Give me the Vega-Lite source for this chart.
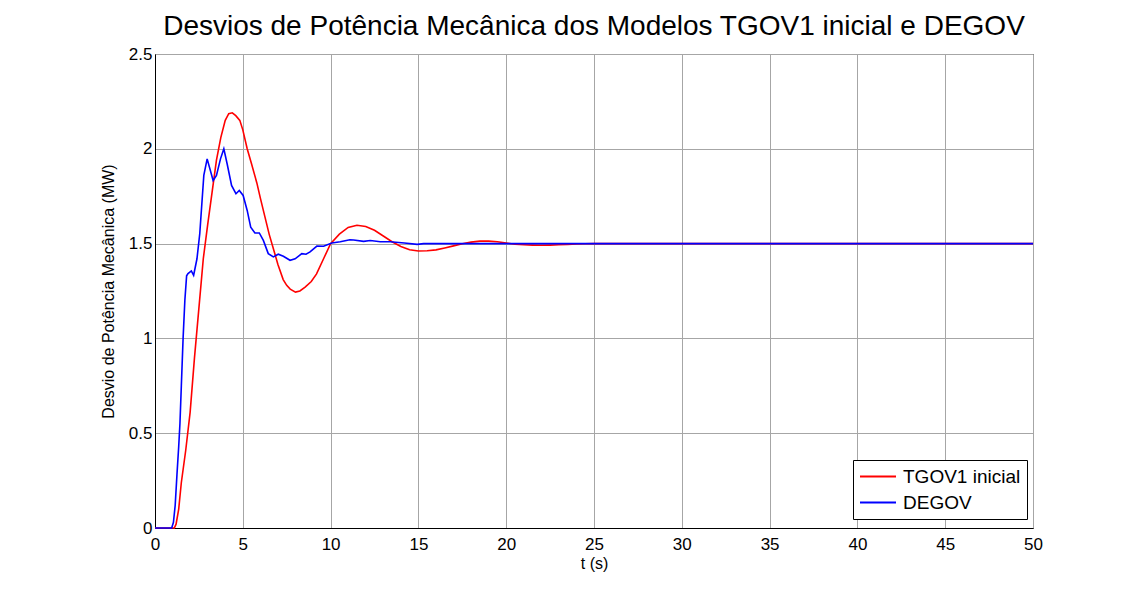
{
  "$schema": "https://vega.github.io/schema/vega-lite/v6.json",
  "autosize": "none",
  "width": 878,
  "height": 474,
  "padding": {"left": 155, "top": 54, "right": 111, "bottom": 63},
  "background": "white",
  "title": {
    "text": "Desvios de Potência Mecânica dos Modelos TGOV1 inicial e DEGOV",
    "font": "Liberation Sans",
    "fontSize": 28,
    "fontWeight": "normal",
    "color": "black",
    "anchor": "middle",
    "offset": 4
  },
  "config": {
    "view": {"stroke": "black", "strokeWidth": 1},
    "axis": {
      "labelFont": "Liberation Sans",
      "titleFont": "Liberation Sans",
      "labelFontSize": 17,
      "titleFontSize": 16,
      "titleFontWeight": "normal",
      "labelColor": "black",
      "titleColor": "black",
      "gridColor": "#a6a6a6",
      "gridOpacity": 1,
      "gridWidth": 1,
      "domainColor": "black",
      "ticks": false,
      "labelFlush": false,
      "labelOverlap": false
    }
  },
  "data": {
    "values": [
      {"t": 0, "v": 0, "s": "TGOV1 inicial"},
      {"t": 1.1, "v": 0, "s": "TGOV1 inicial"},
      {"t": 1.2, "v": 0.02, "s": "TGOV1 inicial"},
      {"t": 1.35, "v": 0.1, "s": "TGOV1 inicial"},
      {"t": 1.5, "v": 0.24, "s": "TGOV1 inicial"},
      {"t": 1.75, "v": 0.41, "s": "TGOV1 inicial"},
      {"t": 2.0, "v": 0.61, "s": "TGOV1 inicial"},
      {"t": 2.25, "v": 0.9, "s": "TGOV1 inicial"},
      {"t": 2.5, "v": 1.16, "s": "TGOV1 inicial"},
      {"t": 2.75, "v": 1.42, "s": "TGOV1 inicial"},
      {"t": 3.0, "v": 1.6, "s": "TGOV1 inicial"},
      {"t": 3.25, "v": 1.77, "s": "TGOV1 inicial"},
      {"t": 3.5, "v": 1.94, "s": "TGOV1 inicial"},
      {"t": 3.75, "v": 2.06, "s": "TGOV1 inicial"},
      {"t": 4.0, "v": 2.15, "s": "TGOV1 inicial"},
      {"t": 4.2, "v": 2.185, "s": "TGOV1 inicial"},
      {"t": 4.4, "v": 2.19, "s": "TGOV1 inicial"},
      {"t": 4.6, "v": 2.175, "s": "TGOV1 inicial"},
      {"t": 4.83, "v": 2.15, "s": "TGOV1 inicial"},
      {"t": 5.0, "v": 2.1, "s": "TGOV1 inicial"},
      {"t": 5.25, "v": 2.0, "s": "TGOV1 inicial"},
      {"t": 5.5, "v": 1.92, "s": "TGOV1 inicial"},
      {"t": 5.8, "v": 1.82, "s": "TGOV1 inicial"},
      {"t": 6.0, "v": 1.74, "s": "TGOV1 inicial"},
      {"t": 6.25, "v": 1.645, "s": "TGOV1 inicial"},
      {"t": 6.5, "v": 1.55, "s": "TGOV1 inicial"},
      {"t": 6.75, "v": 1.47, "s": "TGOV1 inicial"},
      {"t": 7.0, "v": 1.39, "s": "TGOV1 inicial"},
      {"t": 7.3, "v": 1.31, "s": "TGOV1 inicial"},
      {"t": 7.5, "v": 1.28, "s": "TGOV1 inicial"},
      {"t": 7.7, "v": 1.26, "s": "TGOV1 inicial"},
      {"t": 8.0, "v": 1.244, "s": "TGOV1 inicial"},
      {"t": 8.25, "v": 1.25, "s": "TGOV1 inicial"},
      {"t": 8.55, "v": 1.27, "s": "TGOV1 inicial"},
      {"t": 8.9, "v": 1.3, "s": "TGOV1 inicial"},
      {"t": 9.2, "v": 1.34, "s": "TGOV1 inicial"},
      {"t": 9.6, "v": 1.42, "s": "TGOV1 inicial"},
      {"t": 10.0, "v": 1.5, "s": "TGOV1 inicial"},
      {"t": 10.5, "v": 1.55, "s": "TGOV1 inicial"},
      {"t": 11.0, "v": 1.585, "s": "TGOV1 inicial"},
      {"t": 11.5, "v": 1.597, "s": "TGOV1 inicial"},
      {"t": 12.0, "v": 1.59, "s": "TGOV1 inicial"},
      {"t": 12.5, "v": 1.57, "s": "TGOV1 inicial"},
      {"t": 13.0, "v": 1.54, "s": "TGOV1 inicial"},
      {"t": 13.5, "v": 1.51, "s": "TGOV1 inicial"},
      {"t": 14.0, "v": 1.485, "s": "TGOV1 inicial"},
      {"t": 14.5, "v": 1.468, "s": "TGOV1 inicial"},
      {"t": 15.0, "v": 1.461, "s": "TGOV1 inicial"},
      {"t": 15.5, "v": 1.462, "s": "TGOV1 inicial"},
      {"t": 16.0, "v": 1.467, "s": "TGOV1 inicial"},
      {"t": 16.5, "v": 1.477, "s": "TGOV1 inicial"},
      {"t": 17.0, "v": 1.488, "s": "TGOV1 inicial"},
      {"t": 17.5, "v": 1.499, "s": "TGOV1 inicial"},
      {"t": 18.0, "v": 1.508, "s": "TGOV1 inicial"},
      {"t": 18.5, "v": 1.513, "s": "TGOV1 inicial"},
      {"t": 19.0, "v": 1.513, "s": "TGOV1 inicial"},
      {"t": 19.5, "v": 1.51, "s": "TGOV1 inicial"},
      {"t": 20.0, "v": 1.503, "s": "TGOV1 inicial"},
      {"t": 20.5, "v": 1.497, "s": "TGOV1 inicial"},
      {"t": 21.0, "v": 1.494, "s": "TGOV1 inicial"},
      {"t": 21.5, "v": 1.492, "s": "TGOV1 inicial"},
      {"t": 22.0, "v": 1.491, "s": "TGOV1 inicial"},
      {"t": 22.5, "v": 1.492, "s": "TGOV1 inicial"},
      {"t": 23.0, "v": 1.494, "s": "TGOV1 inicial"},
      {"t": 23.5, "v": 1.496, "s": "TGOV1 inicial"},
      {"t": 24.0, "v": 1.498, "s": "TGOV1 inicial"},
      {"t": 24.5, "v": 1.499, "s": "TGOV1 inicial"},
      {"t": 25.0, "v": 1.5, "s": "TGOV1 inicial"},
      {"t": 50.0, "v": 1.5, "s": "TGOV1 inicial"},

      {"t": 0, "v": 0, "s": "DEGOV"},
      {"t": 0.95, "v": 0, "s": "DEGOV"},
      {"t": 1.05, "v": 0.03, "s": "DEGOV"},
      {"t": 1.15, "v": 0.12, "s": "DEGOV"},
      {"t": 1.25, "v": 0.28, "s": "DEGOV"},
      {"t": 1.35, "v": 0.43, "s": "DEGOV"},
      {"t": 1.42, "v": 0.55, "s": "DEGOV"},
      {"t": 1.5, "v": 0.75, "s": "DEGOV"},
      {"t": 1.6, "v": 1.0, "s": "DEGOV"},
      {"t": 1.7, "v": 1.2, "s": "DEGOV"},
      {"t": 1.8, "v": 1.33, "s": "DEGOV"},
      {"t": 1.88, "v": 1.342, "s": "DEGOV"},
      {"t": 2.07, "v": 1.356, "s": "DEGOV"},
      {"t": 2.2, "v": 1.333, "s": "DEGOV"},
      {"t": 2.39, "v": 1.42, "s": "DEGOV"},
      {"t": 2.55, "v": 1.553, "s": "DEGOV"},
      {"t": 2.78, "v": 1.86, "s": "DEGOV"},
      {"t": 2.97, "v": 1.947, "s": "DEGOV"},
      {"t": 3.31, "v": 1.833, "s": "DEGOV"},
      {"t": 3.5, "v": 1.86, "s": "DEGOV"},
      {"t": 3.73, "v": 1.947, "s": "DEGOV"},
      {"t": 3.92, "v": 2.0, "s": "DEGOV"},
      {"t": 4.11, "v": 1.92, "s": "DEGOV"},
      {"t": 4.36, "v": 1.807, "s": "DEGOV"},
      {"t": 4.61, "v": 1.763, "s": "DEGOV"},
      {"t": 4.8, "v": 1.78, "s": "DEGOV"},
      {"t": 5.02, "v": 1.754, "s": "DEGOV"},
      {"t": 5.25, "v": 1.675, "s": "DEGOV"},
      {"t": 5.45, "v": 1.587, "s": "DEGOV"},
      {"t": 5.69, "v": 1.556, "s": "DEGOV"},
      {"t": 5.94, "v": 1.556, "s": "DEGOV"},
      {"t": 6.17, "v": 1.517, "s": "DEGOV"},
      {"t": 6.45, "v": 1.447, "s": "DEGOV"},
      {"t": 6.74, "v": 1.43, "s": "DEGOV"},
      {"t": 7.02, "v": 1.444, "s": "DEGOV"},
      {"t": 7.31, "v": 1.433, "s": "DEGOV"},
      {"t": 7.69, "v": 1.412, "s": "DEGOV"},
      {"t": 7.98, "v": 1.42, "s": "DEGOV"},
      {"t": 8.36, "v": 1.447, "s": "DEGOV"},
      {"t": 8.6, "v": 1.444, "s": "DEGOV"},
      {"t": 8.83, "v": 1.456, "s": "DEGOV"},
      {"t": 9.22, "v": 1.487, "s": "DEGOV"},
      {"t": 9.6, "v": 1.486, "s": "DEGOV"},
      {"t": 10.07, "v": 1.503, "s": "DEGOV"},
      {"t": 10.55, "v": 1.51, "s": "DEGOV"},
      {"t": 11.1, "v": 1.52, "s": "DEGOV"},
      {"t": 11.31, "v": 1.519, "s": "DEGOV"},
      {"t": 11.88, "v": 1.512, "s": "DEGOV"},
      {"t": 12.26, "v": 1.516, "s": "DEGOV"},
      {"t": 12.83, "v": 1.51, "s": "DEGOV"},
      {"t": 13.4, "v": 1.51, "s": "DEGOV"},
      {"t": 14.2, "v": 1.503, "s": "DEGOV"},
      {"t": 14.93, "v": 1.496, "s": "DEGOV"},
      {"t": 15.3, "v": 1.5, "s": "DEGOV"},
      {"t": 50.0, "v": 1.5, "s": "DEGOV"}
    ]
  },
  "mark": {"type": "line", "strokeWidth": 1.6, "interpolate": "linear"},
  "encoding": {
    "x": {
      "field": "t",
      "type": "quantitative",
      "scale": {"domain": [0, 50], "nice": false},
      "axis": {
        "title": "t (s)",
        "values": [0, 5, 10, 15, 20, 25, 30, 35, 40, 45, 50],
        "labelPadding": 8,
        "titlePadding": 3,
        "format": "~g"
      }
    },
    "y": {
      "field": "v",
      "type": "quantitative",
      "scale": {"domain": [0, 2.5], "nice": false},
      "axis": {
        "title": "Desvio de Potência Mecânica (MW)",
        "values": [0, 0.5, 1, 1.5, 2, 2.5],
        "format": "~g",
        "labelPadding": 3,
        "titlePadding": 12
      }
    },
    "color": {
      "field": "s",
      "type": "nominal",
      "sort": ["TGOV1 inicial", "DEGOV"],
      "scale": {"domain": ["TGOV1 inicial", "DEGOV"], "range": ["#ff0000", "#0000ff"]},
      "legend": {
        "title": null,
        "orient": "none",
        "legendX": 698,
        "legendY": 406,
        "symbolType": "stroke",
        "symbolSize": 1296,
        "symbolStrokeWidth": 2,
        "clipHeight": 21,
        "labelFont": "Liberation Sans",
        "labelFontSize": 19,
        "labelOffset": 6,
        "labelColor": "black",
        "strokeColor": "black",
        "fillColor": "white",
        "padding": 6,
        "rowPadding": 5,
        "labelLimit": 300
      }
    }
  }
}
